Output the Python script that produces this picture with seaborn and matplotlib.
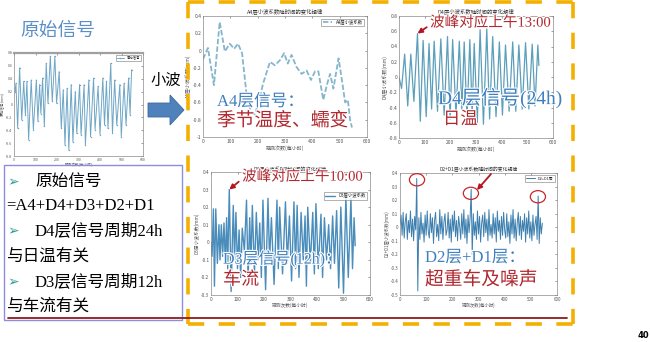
import matplotlib
matplotlib.use("Agg")
import numpy as np
import pandas as pd
import matplotlib.pyplot as plt
import matplotlib.patheffects as pe
import seaborn as sns
from matplotlib.lines import Line2D
from matplotlib.patches import Polygon, Rectangle, Ellipse

# ---------------- data (observation index, wavelet coefficient) ----------------
ORIG_x = [5, 9, 17, 26, 36, 45, 53, 60, 68, 80, 90, 104, 111, 119, 125, 133, 141, 150, 158, 169,
          178, 190, 198, 210, 220, 229, 237, 247, 255, 266, 274, 285, 292, 305, 312, 326, 332, 348, 356, 370,
          377, 391, 400, 413, 421, 430, 437, 450, 458, 468, 478, 492, 499, 512, 521, 533, 540, 547]
ORIG_y = [0.20, 0.33, -0.37, 0.57, -0.24, 0.36, -0.16, 0.36, -0.55, 0.38, -0.39, 0.38, -0.26, 0.31, -0.14,
          0.41, -0.34, 0.64, 0.02, 0.75, 0.05, 0.75, 0.02, 0.51, -0.37, 0.23, -0.63, 0.25, -0.71, 0.31,
          -0.58, 0.20, -0.45, 0.31, -0.47, 0.31, -0.63, 0.38, -0.50, 0.41, -0.39, 0.28, -0.47, 0.41, -0.32,
          0.36, -0.37, 0.64, -0.45, 0.38, -0.32, 0.31, -0.50, 0.33, -0.32, 0.41, -0.16, 0.54]

A4_x = [0, 18, 40, 61, 80, 98, 114, 128, 143, 159, 175, 190, 205, 220, 245, 263, 282, 297, 310, 324,
        342, 361, 379, 395, 410, 422, 440, 453, 465, 477, 496, 510, 520, 530, 538, 545]
A4_y = [-0.10, 0.03, -0.40, 0.33, -0.01, 0.08, 0.02, 0.08, -0.03, -0.50, -0.70, -0.74, -0.58, -0.38,
        -0.13, -0.17, -0.11, -0.03, -0.15, -0.05, -0.19, -0.27, -0.23, -0.34, -0.24, -0.24, -0.57, -0.40,
        -0.27, -0.44, -0.09, -0.38, -0.60, -0.57, -0.80, -0.89]

D4_x = [0, 10, 22, 34, 46, 58, 72, 83, 94, 106, 117, 127, 137, 150, 163, 176, 189, 199, 209, 222,
        235, 245, 254, 265, 276, 285, 293, 305, 316, 329, 342, 353, 365, 378, 391, 403, 415, 429, 443, 455,
        467, 480, 493, 506, 519, 530, 541, 545]
D4_y = [0.0, -0.15, 0.30, -0.38, 0.30, -0.32, 0.57, -0.58, 0.48, -0.52, 0.44, -0.42, 0.47, -0.45, 0.50,
        -0.50, 0.53, -0.55, 0.49, -0.50, 0.47, -0.44, 0.46, -0.55, 0.49, -0.48, 0.44, -0.60, 0.62, -0.62,
        0.63, -0.55, 0.53, -0.52, 0.46, -0.50, 0.42, -0.45, 0.46, -0.45, 0.42, -0.42, 0.45, -0.42, 0.43,
        -0.38, 0.42, 0.15]

D3_x = [0, 4, 9, 13, 18, 24, 30, 34, 39, 44, 49, 54, 59, 63, 69, 76, 84, 89, 94, 100,
        106, 112, 118, 126, 134, 140, 146, 151, 156, 164, 171, 178, 184, 190, 196, 206, 215, 221, 228, 238,
        249, 254, 259, 270, 281, 288, 296, 304, 313, 319, 325, 332, 340, 348, 355, 360, 365, 375, 384, 390,
        396, 405, 415, 421, 428, 436, 444, 451, 459, 466, 474, 482, 490, 500, 509, 518, 528, 534, 540, 544]
D3_y = [0.0, -0.08, 0.19, -0.25, 0.19, -0.12, 0.10, -0.10, 0.10, -0.08, 0.11, -0.12, 0.14, -0.15, 0.30,
        -0.28, 0.21, -0.10, 0.17, -0.15, 0.07, -0.20, 0.08, -0.05, 0.24, -0.22, 0.14, -0.12, 0.21, -0.18,
        0.17, -0.10, 0.11, -0.20, 0.24, -0.27, 0.25, -0.10, 0.14, -0.24, 0.24, -0.15, 0.20, -0.18, 0.23,
        -0.12, 0.15, -0.22, 0.23, -0.15, 0.21, -0.20, 0.17, -0.10, 0.15, -0.25, 0.20, -0.12, 0.17, -0.18,
        0.22, -0.15, 0.16, -0.20, 0.14, -0.10, 0.10, -0.15, 0.15, -0.12, 0.18, -0.26, 0.20, -0.29, 0.26,
        -0.20, 0.25, -0.15, 0.14, -0.02]

D21_x = list(range(0, 545, 4))
D21_y = [0.02, 0.09, -0.06, 0.11, -0.08, 0.04, 0.10, -0.09, 0.05, -0.04,
         0.12, -0.07, 0.06, -0.10, 0.08, -0.02, 0.36, -0.47, 0.07, -0.09,
         0.11, -0.05, 0.03, -0.11, 0.09, -0.06, 0.12, -0.03, -0.08, 0.10,
         -0.04, 0.07, -0.12, 0.05, 0.11, -0.07, 0.02, -0.10, 0.13, -0.05,
         0.08, -0.09, 0.04, 0.10, -0.06, -0.02, 0.11, -0.08, 0.06, -0.11,
         0.09, -0.03, 0.12, -0.07, 0.05, -0.10, 0.08, 0.01, -0.09, 0.10,
         -0.05, 0.13, -0.08, 0.06, -0.12, 0.09, -0.04, 0.07, 0.28, -0.20,
         0.10, -0.06, 0.04, -0.09, 0.12, -0.05, 0.08, -0.11, 0.03, 0.09,
         -0.07, 0.11, -0.04, 0.06, -0.10, 0.13, -0.06, 0.02, -0.08, 0.10,
         -0.05, 0.07, -0.11, 0.12, -0.03, 0.05, -0.09, 0.08, -0.06, 0.11,
         -0.02, -0.08, 0.10, -0.07, 0.04, -0.12, 0.09, -0.05, 0.13, -0.08,
         0.06, -0.10, 0.03, 0.11, -0.06, 0.08, -0.09, 0.05, -0.03, 0.10,
         -0.11, 0.07, -0.05, 0.12, -0.08, 0.04, -0.10, 0.09, -0.06, 0.02,
         0.08, -0.09, 0.23, -0.12, 0.07, -0.05, 0.03]

# peaks called out on the slide
D4_PEAK = (72, 0.57)
D3_PEAK = (69, 0.30)
D21_SPIKES = [(65, 0.35), (271, 0.25), (527, 0.225)]

# ---------------- figure setup ----------------
sns.set_theme(style="white")
plt.rcParams['font.family'] = ['Noto Sans CJK SC', 'DejaVu Sans']
plt.rcParams['axes.unicode_minus'] = False
SERIF = ['Liberation Serif', 'Noto Sans CJK SC', 'DejaVu Sans']
HALO = [pe.withStroke(linewidth=1.6, foreground='white')]

W, H = 650, 342
fig = plt.figure(figsize=(6.5, 3.42), dpi=100)
fig.patch.set_facecolor('white')


def fx(x):
    return x / W


def fy(y):
    return 1 - y / H


def rect(x0, y0, x1, y1):
    return [x0 / W, 1 - y1 / H, (x1 - x0) / W, (y1 - y0) / H]


def style(ax, ylim, yticks, title, xlabel, ylabel, fs=3.6, title_pad=1.5):
    ax.set_xlim(0, 600)
    ax.set_ylim(*ylim)
    ax.set_xticks(range(0, 601, 100))
    ax.set_xticklabels([str(v) for v in range(0, 601, 100)])
    ax.set_yticks(yticks)
    ax.set_yticklabels([f"{v:g}" for v in yticks])
    ax.tick_params(labelsize=fs, colors='#555555', length=1.5, width=0.4,
                   direction='in', pad=1.2, top=True, right=True)
    for s in ax.spines.values():
        s.set_color('#8a8a8a')
        s.set_linewidth(0.5)
    ax.set_title(title, fontsize=fs + 0.3, pad=title_pad, color='#333333')
    ax.set_xlabel(xlabel, fontsize=fs, labelpad=1, color='#555555')
    ax.set_ylabel(ylabel, fontsize=fs, labelpad=1, color='#555555')
    ax.set_facecolor('white')


def small_legend(ax, fs=3.2, anchor=(1.0, 1.0)):
    leg = ax.legend(loc='upper right', bbox_to_anchor=anchor, fontsize=fs, frameon=True,
                    fancybox=False, handlelength=2.2, borderpad=0.3, borderaxespad=0.6,
                    edgecolor='#555555')
    leg.get_frame().set_linewidth(0.4)


# ---------------- original signal ----------------
ax0 = fig.add_axes(rect(14, 53, 143, 156))
sns.lineplot(x=ORIG_x, y=ORIG_y, ax=ax0, color='#6ea6c6', lw=0.7, label='原始信号',
             marker='o', markersize=1.0, markeredgewidth=0, errorbar=None)
style(ax0, (-0.8, 0.8), [-0.8, -0.6, -0.4, -0.2, 0, 0.2, 0.4, 0.6, 0.8],
      '', '观测次数(每小时)', '原始信号(mm)', fs=2.6)
ax0.spines['top'].set_linewidth(1.6)
ax0.spines['top'].set_color('#a0a0a0')
small_legend(ax0, fs=2.4)

# ---------------- A4 ----------------
axA = fig.add_axes(rect(203, 16, 367, 137))
sns.lineplot(x=A4_x, y=A4_y, ax=axA, color='#86b6cc', lw=1.3, label='A4层小波系数',
             linestyle=(0, (3, 1.2)), errorbar=None)
style(axA, (-1, 0.4), [-1, -0.8, -0.6, -0.4, -0.2, 0, 0.2, 0.4],
      'A4层小波系数随时间的变化规律', '观测次数(每小时)', 'A4层小波系数(mm)')
small_legend(axA)

# ---------------- D4 ----------------
axD4 = fig.add_axes(rect(399, 16, 553, 138))
sns.lineplot(x=D4_x, y=D4_y, ax=axD4, color='#5c9fba', lw=0.9, legend=False, errorbar=None)
style(axD4, (-0.8, 0.8), [-0.8, -0.6, -0.4, -0.2, 0, 0.2, 0.4, 0.6, 0.8],
      'D4层小波系数随时间的变化规律', '观测次数(每小时)', 'D4层小波系数(mm)')

# ---------------- D3 ----------------
axD3 = fig.add_axes(rect(211, 172, 370, 295))
sns.lineplot(x=D3_x, y=D3_y, ax=axD3, color='#4a8dbb', lw=1.0, label='D3层小波系数', errorbar=None)
style(axD3, (-0.3, 0.4), [-0.3, -0.2, -0.1, 0, 0.1, 0.2, 0.3, 0.4],
      'D3层小波系数随时间的变化规律', '观测次数(每小时)', 'D3层小波系数(mm)',
      fs=3.4, title_pad=0.8)
small_legend(axD3, anchor=(1.0, 0.86))

# ---------------- D2 + D1 ----------------
axD2 = fig.add_axes(rect(400, 173, 557, 295))
sns.lineplot(x=D21_x, y=D21_y, ax=axD2, color='#3d7fae', lw=0.7, label='D2+D1层', errorbar=None)
style(axD2, (-0.5, 0.4), [-0.5, -0.4, -0.3, -0.2, -0.1, 0, 0.1, 0.2, 0.3, 0.4],
      'D2+D1层小波系数随时间的变化规律', '观测次数(每小时)', 'D2+D1层小波系数(mm)', fs=3.2)
small_legend(axD2, fs=2.8)
for cx, cy in D21_SPIKES:
    axD2.add_patch(Ellipse((cx, cy), width=58, height=0.09, fill=False,
                           edgecolor='#c8262e', lw=0.9, clip_on=False, zorder=5))

RED = '#b0282f'
BLUE = '#3f7fbf'
arrow_kw = dict(arrowstyle='-|>', color='#b3161e', lw=1.3, mutation_scale=7,
                shrinkA=0, shrinkB=0)

t1 = axD4.annotate('波峰对应上午13:00', xy=D4_PEAK, xycoords='data',
                   xytext=(fx(430), fy(23)), textcoords='figure fraction',
                   fontsize=10.5, color=RED, ha='left', va='center', family=SERIF,
                   arrowprops=dict(relpos=(0.0, 0.35), **arrow_kw), zorder=10)
t2 = axD3.annotate('波峰对应上午10:00', xy=D3_PEAK, xycoords='data',
                   xytext=(fx(242), fy(177)), textcoords='figure fraction',
                   fontsize=10.5, color=RED, ha='left', va='center', family=SERIF,
                   arrowprops=dict(relpos=(0.0, 0.35), **arrow_kw), zorder=10)
for t in (t1, t2):
    t.set_path_effects(HALO)
axD2.annotate('', xy=(fx(477), fy(190)), xycoords='figure fraction',
              xytext=(fx(491), fy(174)), textcoords='figure fraction',
              arrowprops=arrow_kw)

# ---------------- overlay captions ----------------
captions = [
    ('A4层信号：', 217, 102, BLUE, 12),
    ('季节温度、蠕变', 217, 121, RED, 13.5),
    ('D4层信号(24h)', 438, 98, BLUE, 14),
    ('日温', 443, 120, RED, 12.5),
    ('D3层信号(12h)：', 223, 259, BLUE, 11.5),
    ('车流', 223, 280, RED, 13),
    ('D2层+D1层：', 425, 258, BLUE, 12),
    ('超重车及噪声', 425, 280, RED, 13.5),
]
for txt, x, y, c, s in captions:
    fig.text(fx(x), fy(y), txt, color=c, fontsize=s, ha='left', va='center', family=SERIF,
             zorder=20, path_effects=HALO)

fig.text(fx(20), fy(30), '原始信号', color='#5b8fc7', fontsize=13.5, ha='left', va='center')
fig.text(fx(150), fy(81), '小波', color='black', fontsize=11, ha='left', va='center', family=SERIF)

# block arrow pointing to the decomposition panel
arrow_pts = [(148, 103), (170, 103), (170, 95), (184, 110), (170, 125), (170, 117), (148, 117)]
fig.add_artist(Polygon([(fx(x), fy(y)) for x, y in arrow_pts], closed=True,
                       transform=fig.transFigure, facecolor='#4f81bd', edgecolor='#3d6a9a', lw=0.6))

# dashed frame around the four panels
ORANGE = '#f4b000'
dash = (0, (4.5, 4))
for (x0, y0, x1, y1) in [(188, 2, 574, 2), (188, 324, 574, 324), (188, 2, 188, 324), (573, 2, 573, 324)]:
    fig.add_artist(Line2D([fx(x0), fx(x1)], [fy(y0), fy(y1)], transform=fig.transFigure,
                          color=ORANGE, lw=2.6, linestyle=dash))

# dark red rule under the content
fig.add_artist(Line2D([fx(8), fx(567)], [fy(318), fy(318)], transform=fig.transFigure,
                      color='#8b1d1d', lw=1.3))

# summary box
fig.add_artist(Rectangle((fx(4), fy(320)), (182 - 4) / W, (320 - 165) / H, transform=fig.transFigure,
                         fill=False, edgecolor='#8c8ce0', lw=1.0))
bullet_lines = [
    (True, '原始信号', 182),
    (False, '=A4+D4+D3+D2+D1', 206),
    (True, 'D4层信号周期24h', 231),
    (False, '与日温有关', 257),
    (True, 'D3层信号周期12h', 282),
    (False, '与车流有关', 307),
]
for bullet, txt, y in bullet_lines:
    if bullet:
        fig.text(fx(7), fy(y), '➢', color='#2f9c9a', fontsize=10, ha='left', va='center',
                 family=['DejaVu Sans'])
        fig.text(fx(35), fy(y), txt, color='black', fontsize=12, ha='left', va='center', family=SERIF)
    else:
        fig.text(fx(6), fy(y), txt, color='black', fontsize=12, ha='left', va='center', family=SERIF)

fig.text(fx(643), fy(336), '40', color='black', fontsize=6, fontweight='bold', ha='center', va='center',
         family=['DejaVu Sans'])

fig.savefig('out.png', dpi=100, facecolor='white')
